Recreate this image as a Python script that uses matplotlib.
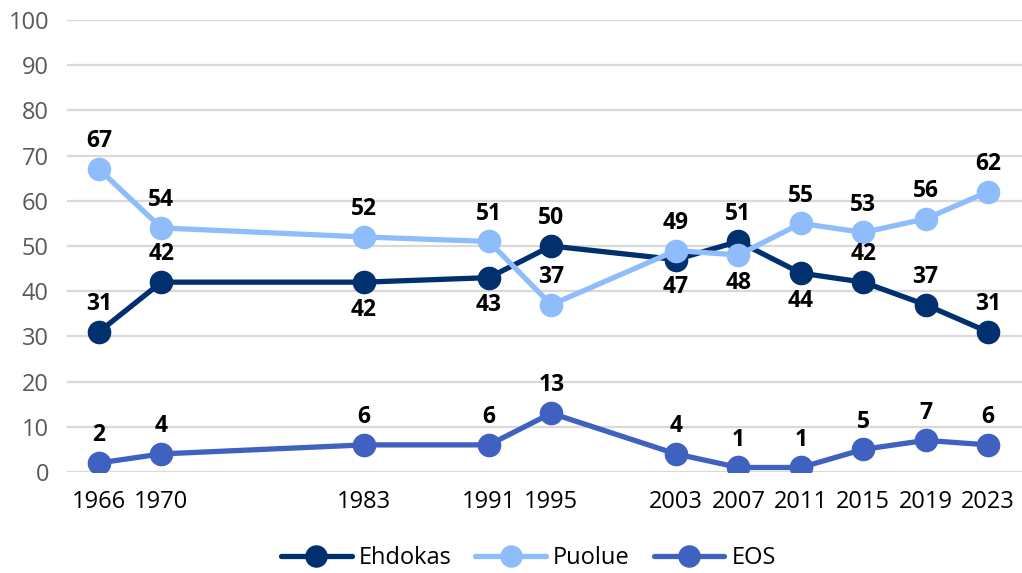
import matplotlib
matplotlib.use("Agg")
import matplotlib.pyplot as plt

years = [1966, 1970, 1983, 1991, 1995, 2003, 2007, 2011, 2015, 2019, 2023]
ehdokas = [31, 42, 42, 43, 50, 47, 51, 44, 42, 37, 31]
puolue = [67, 54, 52, 51, 37, 49, 48, 55, 53, 56, 62]
eos = [2, 4, 6, 6, 13, 4, 1, 1, 5, 7, 6]
y_ticks = [0, 10, 20, 30, 40, 50, 60, 70, 80, 90, 100]

# label placement (style): +1 above, -1 below
ehdokas_pos = [1, 1, -1, -1, 1, -1, 1, -1, 1, 1, 1]
puolue_pos = [1, 1, 1, 1, 1, 1, -1, 1, 1, 1, 1]
eos_pos = [1] * len(eos)

plt.rcParams['font.family'] = ['Open Sans', 'DejaVu Sans']

fig = plt.figure(figsize=(10.22, 5.73), dpi=100)
ax = fig.add_axes([67 / 1022, 1 - 472 / 573, 1 - 67 / 1022, (472 - 20) / 573])

series = [
    ("Ehdokas", ehdokas, "#01306e", ehdokas_pos),
    ("Puolue", puolue, "#8fbdfb", puolue_pos),
    ("EOS", eos, "#3f62c0", eos_pos),
]
for i, (name, vals, col, pos) in enumerate(series):
    ax.plot(years, vals, color=col, lw=3.8, marker='o', ms=16, label=name,
            zorder=3 + i, solid_capstyle='round')
    for x, v, p in zip(years, vals, pos):
        ax.annotate(str(v), (x, v), xytext=(0, 20 * p), textcoords='offset points',
                    ha='center', va='center', fontsize=16.5, fontweight='bold',
                    color='black', zorder=10)

ax.set_ylim(0, 100)
ax.set_xlim(1963.95, 2025.18)
ax.set_yticks(y_ticks)
ax.set_xticks(years)
ax.set_xticklabels([str(y) for y in years])
ax.grid(axis='y', color='#d9d9d9', lw=1.6)
ax.set_axisbelow(True)
for s in ax.spines.values():
    s.set_visible(False)
ax.tick_params(axis='y', length=0, pad=13, labelsize=17, labelcolor='#595959')
ax.tick_params(axis='x', length=0, pad=13, labelsize=17, labelcolor='black')

leg = fig.legend(loc='center', bbox_to_anchor=(0.517, 1 - 558 / 573), ncol=3,
                 frameon=False, fontsize=17, handlelength=3.0, columnspacing=1.0,
                 handletextpad=0.3, markerscale=0.95)

fig.savefig("out.png", dpi=100)
